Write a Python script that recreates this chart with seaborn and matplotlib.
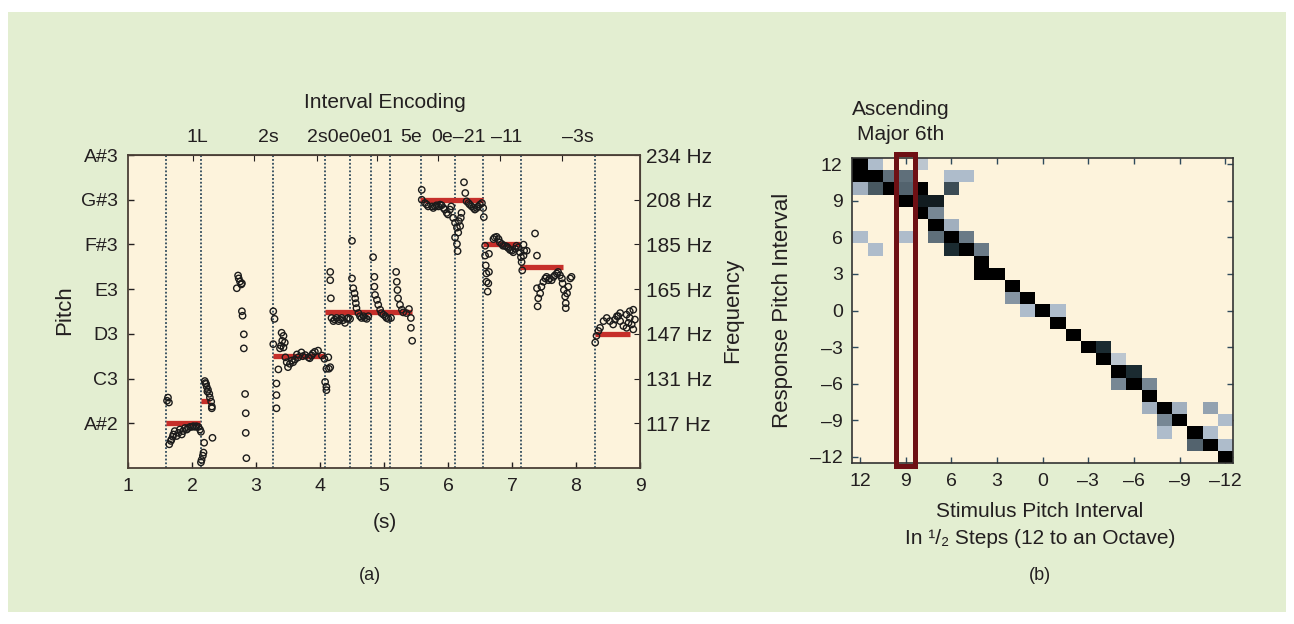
import numpy as np
import pandas as pd
import seaborn as sns
import matplotlib.pyplot as plt
from matplotlib.colors import LinearSegmentedColormap
from matplotlib.patches import Rectangle

# ---------------- (a) sung pitch track ----------------
# note onsets (s), dotted vertical lines
onset_s = [1.60, 2.14, 3.27, 4.08, 4.47, 4.79, 5.10, 5.58, 6.11, 6.54, 7.14, 8.29]

# interval codes printed above the plot
code_labels = ["1L", "2s", "2s0e0e01", "5e", "0e\u201321", "\u201311", "\u20133s"]
code_label_s = [2.08, 3.19, 4.47, 5.42, 6.16, 6.91, 8.03]

# target notes (red bars), pitch as MIDI number
target_start = [1.60, 2.14, 3.27, 4.08, 5.56, 6.55, 7.13, 8.29]
target_end = [2.12, 2.28, 4.08, 5.43, 6.55, 7.12, 7.79, 8.84]
target_note = [46, 47, 49, 51, 56, 54, 53, 50]

pitch_ticks = [58, 56, 54, 52, 50, 48, 46]
pitch_names = ["A#3", "G#3", "F#3", "E3", "D3", "C3", "A#2"]
freq_names = ["234 Hz", "208 Hz", "185 Hz", "165 Hz", "147 Hz", "131 Hz", "117 Hz"]
time_ticks = [1, 2, 3, 4, 5, 6, 7, 8, 9]
top_tick_s = [2.01, 2.97, 3.95, 4.89, 5.85, 6.81, 7.78]

# sung pitch estimates, one pair of lists per note
note1_t = [1.61, 1.625, 1.64, 1.645, 1.67, 1.68, 1.70, 1.71, 1.73, 1.76, 1.79, 1.81, 1.84, 1.86,
           1.89, 1.92, 1.94, 1.97, 2.00, 2.02, 2.05, 2.07, 2.10, 2.125, 2.14]
note1_p = [47.01, 47.15, 46.93, 45.06, 45.21, 45.28, 45.40, 45.50, 45.65, 45.43, 45.57, 45.72, 45.50, 45.65,
           45.79, 45.72, 45.79, 45.84, 45.84, 45.87, 45.84, 45.87, 45.84, 45.72, 45.62]
note2_t = [2.20, 2.21, 2.22, 2.23, 2.24, 2.25, 2.27, 2.28, 2.30, 2.31, 2.31, 2.32, 2.19, 2.18, 2.17, 2.15, 2.14]
note2_p = [47.89, 47.80, 47.76, 47.63, 47.42, 47.50, 47.32, 47.15, 46.97, 46.75, 46.67, 45.35,
           45.13, 44.69, 44.55, 44.36, 44.25]
note3_t = [2.70, 2.72, 2.73, 2.75, 2.77, 2.78, 2.78, 2.79, 2.81, 2.81, 2.83, 2.84, 2.84, 2.85]
note3_p = [52.04, 52.61, 52.48, 52.34, 52.21, 52.26, 51.01, 50.81, 49.98, 49.35, 47.31, 46.45, 45.57, 44.44]
note4_t = [3.27, 3.29, 3.27, 3.35, 3.32, 3.32, 3.32, 3.40, 3.43, 3.41, 3.39, 3.375, 3.43, 3.45,
           3.46, 3.48, 3.50, 3.53, 3.56, 3.58, 3.61, 3.64, 3.66, 3.71, 3.73, 3.77, 3.82, 3.84,
           3.87, 3.89, 3.92, 3.97, 4.03, 4.07, 4.10, 4.13, 4.08, 4.10, 4.10, 4.14, 4.16]
note4_p = [51.01, 50.67, 49.54, 48.41, 47.78, 47.26, 46.67, 50.05, 49.91, 49.69, 49.47, 49.35, 49.39, 49.61,
           48.95, 48.73, 48.51, 48.66, 48.81, 48.73, 48.85, 49.08, 48.95, 49.17, 49.00, 49.05, 48.95, 48.91,
           49.03, 49.13, 49.20, 49.25, 49.03, 48.88, 48.44, 48.95, 47.85, 47.63, 47.48, 48.44, 48.51]
note5_t = [4.16, 4.16, 4.17, 4.18, 4.21, 4.23, 4.26, 4.29, 4.31, 4.34, 4.36, 4.39, 4.42, 4.44, 4.47,
           4.50, 4.50, 4.52, 4.54, 4.55, 4.56, 4.57, 4.60, 4.625, 4.65, 4.68, 4.70, 4.73, 4.755,
           4.83, 4.85, 4.85, 4.86, 4.89, 4.91, 4.94, 4.96, 4.99, 5.02, 5.04, 5.07, 5.11,
           5.19, 5.20, 5.21, 5.22, 5.25, 5.28, 5.30, 5.35, 5.39, 5.42, 5.42, 5.44]
note5_p = [52.77, 52.40, 51.59, 50.71, 50.57, 50.64, 50.71, 50.57, 50.64, 50.71, 50.61, 50.49, 50.67, 50.71, 50.67,
           54.16, 52.48, 52.04, 51.81, 51.59, 51.37, 51.15, 50.93, 50.79, 50.71, 50.79, 50.71, 50.67, 50.79,
           53.43, 52.55, 52.11, 51.74, 51.52, 51.30, 51.08, 50.93, 50.86, 50.79, 50.71, 50.67, 50.71,
           52.77, 52.33, 51.96, 51.59, 51.30, 51.08, 50.96, 50.93, 51.11, 50.71, 50.27, 49.69]
note6_t = [5.59, 5.59, 5.64, 5.67, 5.69, 5.75, 5.77, 5.80, 5.82, 5.85, 5.875, 5.90, 5.93, 5.95, 5.98,
           6.00, 6.03, 6.05, 6.08, 6.11, 6.14, 6.11, 6.14, 6.15, 6.16, 6.19, 6.20, 6.21, 6.17,
           6.25, 6.27, 6.29, 6.32, 6.34, 6.37, 6.40, 6.42, 6.45, 6.47, 6.50, 6.53, 6.55, 6.56]
note6_p = [56.44, 56.00, 55.85, 55.78, 55.70, 55.70, 55.63, 55.70, 55.75, 55.70, 55.78, 55.75, 55.63, 55.56, 55.41,
           55.34, 55.56, 55.70, 55.19, 54.97, 54.75, 54.31, 54.02, 53.70, 54.53, 54.82, 55.19, 55.41, 55.04,
           56.78, 56.30, 55.93, 55.85, 55.78, 55.70, 55.63, 55.56, 55.63, 55.70, 55.78, 55.85, 55.63, 55.22]
note7_t = [6.58, 6.58, 6.59, 6.60, 6.60, 6.62, 6.64, 6.64, 6.63, 6.71, 6.73, 6.76, 6.79, 6.81, 6.84,
           6.86, 6.89, 6.92, 6.94, 6.97, 7.00, 7.02, 7.05, 7.07, 7.10, 7.125, 7.14, 7.15, 7.16,
           7.18, 7.19, 7.23, 7.18]
note7_p = [53.94, 53.50, 53.06, 52.70, 52.33, 51.89, 53.58, 52.77, 52.26, 54.24, 54.31, 54.34, 54.24, 54.09, 54.02,
           53.94, 53.94, 53.90, 53.84, 53.75, 53.72, 53.65, 53.80, 53.94, 53.87, 53.65, 53.43, 53.21, 52.84,
           53.50, 53.72, 53.72, 53.99]
note8_t = [7.36, 7.39, 7.39, 7.41, 7.40, 7.44, 7.46, 7.49, 7.52, 7.54, 7.57, 7.59, 7.62, 7.65, 7.67,
           7.70, 7.72, 7.75, 7.78, 7.79, 7.81, 7.83, 7.84, 7.84, 7.86, 7.88, 7.91, 7.93]
note8_p = [54.49, 53.50, 52.04, 51.59, 51.23, 51.81, 52.11, 52.33, 52.48, 52.55, 52.40, 52.48, 52.40, 52.55, 52.62,
           52.70, 52.77, 52.62, 52.48, 52.26, 51.96, 51.67, 51.37, 51.15, 51.81, 52.11, 52.48, 52.55]
note9_t = [8.30, 8.32, 8.35, 8.375, 8.43, 8.48, 8.53, 8.58, 8.61, 8.64, 8.66, 8.69, 8.69, 8.74, 8.79,
           8.79, 8.82, 8.84, 8.84, 8.87, 8.895, 8.895, 8.92]
note9_p = [49.61, 49.91, 50.13, 50.27, 50.57, 50.71, 50.57, 50.42, 50.64, 50.79, 50.79, 50.57, 50.93, 50.35, 50.27,
           50.86, 50.49, 50.71, 51.01, 50.42, 50.20, 51.08, 50.64]

# ---------------- (b) confusion matrix ----------------
interval_values = list(range(12, -13, -1))
hm_resp = [12, 12, 12,
           11, 11, 11, 11, 11, 11,
           10, 10, 10, 10, 10, 10,
           9, 9, 9,
           8, 8,
           7, 7,
           6, 6, 6, 6, 6,
           5, 5, 5, 5,
           4,
           3, 3,
           2,
           1, 1,
           0, 0, 0,
           -1, -2,
           -3, -3,
           -4, -4,
           -5, -5,
           -6, -6, -6,
           -7,
           -8, -8, -8, -8,
           -9, -9, -9,
           -10, -10, -10,
           -11, -11, -11,
           -12]
hm_stim = [12, 11, 8,
           12, 11, 10, 9, 6, 5,
           12, 11, 10, 9, 8, 6,
           9, 8, 7,
           8, 7,
           7, 6,
           12, 9, 7, 6, 5,
           11, 6, 5, 4,
           4,
           4, 3,
           2,
           2, 1,
           1, 0, -1,
           -1, -2,
           -3, -4,
           -4, -5,
           -5, -6,
           -5, -6, -7,
           -7,
           -7, -8, -9, -11,
           -8, -9, -12,
           -8, -10, -11,
           -10, -11, -12,
           -12]
hm_shade = [1.0, 0.25, 0.2,
            1.0, 1.0, 0.55, 0.55, 0.25, 0.25,
            0.3, 0.65, 1.0, 0.6, 1.0, 0.7,
            1.0, 0.9, 0.9,
            1.0, 0.45,
            1.0, 0.3,
            0.25, 0.25, 0.55, 1.0, 0.5,
            0.25, 0.85, 1.0, 0.5,
            1.0,
            1.0, 1.0,
            1.0,
            0.4, 1.0,
            0.25, 1.0, 0.25,
            1.0, 1.0,
            1.0, 0.85,
            1.0, 0.2,
            1.0, 0.85,
            0.45, 1.0, 0.45,
            1.0,
            0.3, 1.0, 0.3, 0.35,
            0.45, 1.0, 0.25,
            0.25, 1.0, 0.25,
            0.6, 1.0, 0.25,
            1.0]
highlight_stim = 9

GREEN = '#e3eed1'
CREAM = '#fdf3dc'
INK = '#231f20'

sns.set_style('ticks')
plt.rcParams['font.family'] = ['Liberation Sans', 'DejaVu Sans']
plt.rcParams['font.size'] = 15
plt.rcParams['text.color'] = INK
plt.rcParams['xtick.color'] = INK
plt.rcParams['ytick.color'] = INK

fig = plt.figure(figsize=(12.94, 6.24), dpi=100, facecolor='white')
fig.patches.append(Rectangle((8 / 1294, 12 / 624), 1278 / 1294, 600 / 624,
                             transform=fig.transFigure, facecolor=GREEN, edgecolor='none', zorder=-5))

# ---- panel (a)
ax = fig.add_axes([0.0989, 0.25, 0.3957, 0.5016])
ax.set_facecolor(CREAM)

frames = []
for tt, pp in [(note1_t, note1_p), (note2_t, note2_p), (note3_t, note3_p), (note4_t, note4_p),
               (note5_t, note5_p), (note6_t, note6_p), (note7_t, note7_p), (note8_t, note8_p),
               (note9_t, note9_p)]:
    frames.append(pd.DataFrame({'t': tt, 'pitch': pp}))
track = pd.concat(frames, ignore_index=True)

for x in onset_s:
    ax.axvline(x, color='#2f4a5c', linestyle=(0, (1, 1.1)), linewidth=1.3, zorder=1)
ax.hlines(target_note, target_start, target_end, colors='#c62f2a', linewidth=3.8, zorder=2)
sns.scatterplot(data=track, x='t', y='pitch', ax=ax, marker='o', s=21,
                facecolor='none', edgecolor='#1b1b1b', linewidth=1.0, legend=False, zorder=3)

ax.set_xlim(1, 9)
ax.set_ylim(44, 58)
ax.set_xticks(time_ticks)
ax.set_xticklabels([str(v) for v in time_ticks])
ax.set_yticks(pitch_ticks)
ax.set_yticklabels(pitch_names)
ax.set_xlabel('')
ax.set_ylabel('')
ax.tick_params(direction='in', length=4, width=1, pad=7, labelsize=14)
ax.tick_params(axis='x', pad=7)
for sp in ax.spines.values():
    sp.set_visible(True)
    sp.set_color('#4a3f36')
    sp.set_linewidth(1.3)

rax = ax.secondary_yaxis('right')
rax.set_yticks(pitch_ticks)
rax.set_yticklabels(freq_names)
rax.tick_params(direction='in', length=4, pad=4, labelsize=15)
rax.spines['right'].set_color('#4a3f36')

tax = ax.secondary_xaxis('top')
tax.set_xticks(top_tick_s)
tax.set_xticklabels([])
tax.tick_params(direction='in', length=4)
tax.spines['top'].set_color('#4a3f36')

for lab, xs in zip(code_labels, code_label_s):
    ax.text(xs, 1.03, lab, transform=ax.get_xaxis_transform(), ha='center', va='bottom', fontsize=14)

fig.text(0.2975, 0.835, 'Interval Encoding', ha='center', va='center', fontsize=15)
fig.text(0.0502, 0.503, 'Pitch', ha='center', va='center', rotation=90, fontsize=16)
fig.text(0.5665, 0.503, 'Frequency', ha='center', va='center', rotation=90, fontsize=16)
fig.text(0.2975, 0.162, '(s)', ha='center', va='center', fontsize=15)
fig.text(0.286, 0.0785, '(a)', ha='center', va='center', fontsize=13)

# ---- panel (b)
ax2 = fig.add_axes([0.6587, 0.258, 0.2942, 0.4888])
ax2.set_facecolor(CREAM)
mat = pd.DataFrame(0.0, index=interval_values, columns=interval_values)
for r, c, v in zip(hm_resp, hm_stim, hm_shade):
    mat.loc[r, c] = v
cmap = LinearSegmentedColormap.from_list(
    'conf', [(0.0, CREAM), (0.05, '#e6e4dc'), (0.25, '#aebccb'), (0.5, '#6a7a86'),
             (0.85, '#1b2b31'), (1.0, '#000000')])
sns.heatmap(mat, ax=ax2, cmap=cmap, vmin=0, vmax=1, mask=(mat == 0), cbar=False,
            xticklabels=False, yticklabels=False)

tick_idx = list(range(0, 25, 3))
tick_txt = [str(interval_values[i]).replace('-', '\u2013') for i in tick_idx]
ax2.set_xticks([i + 0.5 for i in tick_idx])
ax2.set_xticklabels(tick_txt, rotation=0)
ax2.set_yticks([i + 0.5 for i in tick_idx])
ax2.set_yticklabels(tick_txt, rotation=0)
ax2.set_xlabel('')
ax2.set_ylabel('')
ax2.tick_params(direction='in', length=4, width=1, top=True, right=True, pad=7, labelsize=14,
                color='#2f4a5c')
for sp in ax2.spines.values():
    sp.set_visible(True)
    sp.set_color('#333333')
    sp.set_linewidth(1.2)

hl = interval_values.index(highlight_stim)
ax2.add_patch(Rectangle((hl - 0.13, -0.35), 1.25, 25.6, fill=False,
                        edgecolor='#6e1014', linewidth=3.6, clip_on=False, zorder=5))

fig.text(0.6963, 0.8253, 'Ascending', ha='center', va='center', fontsize=15)
fig.text(0.6963, 0.7837, 'Major 6th', ha='center', va='center', fontsize=15)
fig.text(0.605, 0.503, 'Response Pitch Interval', ha='center', va='center', rotation=90, fontsize=16)
fig.text(0.8037, 0.1795, 'Stimulus Pitch Interval', ha='center', va='center', fontsize=15)
fig.text(0.8037, 0.1378, 'In \u00b9/\u2082 Steps (12 to an Octave)', ha='center', va='center', fontsize=15)
fig.text(0.8037, 0.0785, '(b)', ha='center', va='center', fontsize=13)

fig.savefig('out.png', dpi=100, facecolor=fig.get_facecolor())
